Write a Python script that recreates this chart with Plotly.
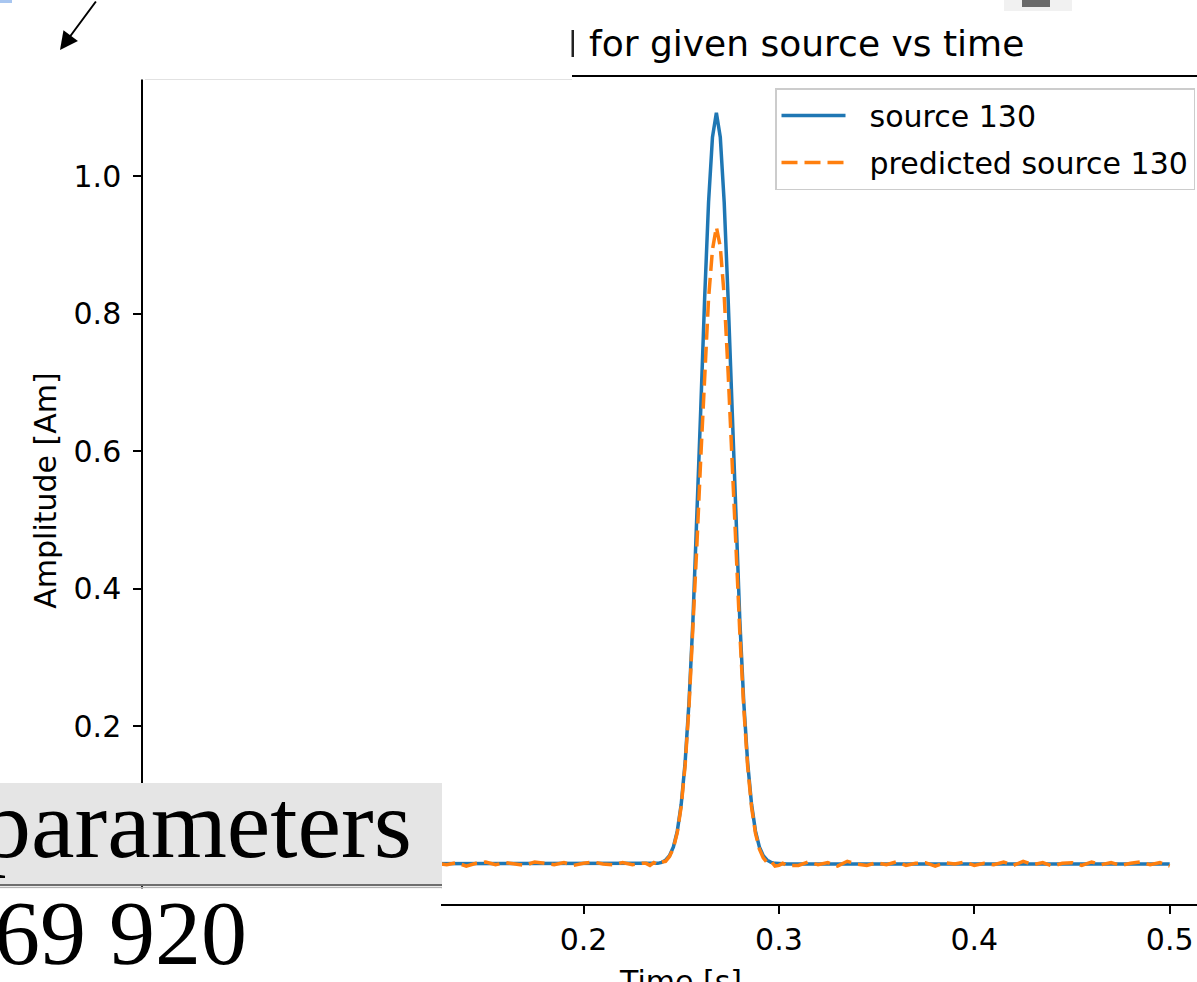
import plotly.graph_objects as go

# ---------------- data ----------------
time_s = [
    0.000, 0.005, 0.010, 0.015, 0.020, 0.025, 0.030, 0.035, 0.040, 0.045,
    0.050, 0.055, 0.060, 0.065, 0.070, 0.075, 0.080, 0.085, 0.090, 0.095,
    0.100, 0.105, 0.110, 0.115, 0.120, 0.125, 0.130, 0.135, 0.140, 0.145,
    0.150, 0.155, 0.160, 0.165, 0.170, 0.175, 0.180, 0.185, 0.190, 0.195,
    0.200, 0.205, 0.210, 0.215, 0.220, 0.225, 0.230,
    0.232, 0.234, 0.236, 0.238, 0.240, 0.242, 0.244, 0.246, 0.248, 0.250,
    0.252, 0.254, 0.256, 0.258, 0.260, 0.262, 0.264, 0.266, 0.268, 0.270,
    0.272, 0.274, 0.276, 0.278, 0.280, 0.282, 0.284, 0.286, 0.288, 0.290,
    0.292, 0.294, 0.296, 0.298, 0.300, 0.302, 0.304,
    0.310, 0.315, 0.320, 0.325, 0.330, 0.335, 0.340, 0.345, 0.350, 0.355,
    0.360, 0.365, 0.370, 0.375, 0.380, 0.385, 0.390, 0.395, 0.400, 0.405,
    0.410, 0.415, 0.420, 0.425, 0.430, 0.435, 0.440, 0.445, 0.450, 0.455,
    0.460, 0.465, 0.470, 0.475, 0.480, 0.485, 0.490, 0.495, 0.500,
]

source_amp = [
    0, 0, 0, 0, 0, 0, 0, 0, 0, 0,
    0, 0, 0, 0, 0, 0, 0, 0, 0, 0,
    0, 0, 0, 0, 0, 0, 0, 0, 0, 0,
    0, 0, 0, 0, 0, 0, 0, 0, 0, 0,
    0, 0, 0, 0, 0, 0, 0,
    0.0000, 0.0000, 0.0003, 0.0010, 0.0024, 0.0055, 0.0121, 0.0248, 0.0479, 0.0867,
    0.1475, 0.2358, 0.3539, 0.4990, 0.6611, 0.8227, 0.9619, 1.0565, 1.0920, 1.0565,
    0.9619, 0.8227, 0.6611, 0.4990, 0.3539, 0.2358, 0.1475, 0.0867, 0.0479, 0.0248,
    0.0121, 0.0055, 0.0024, 0.0010, 0.0003, 0.0000, 0.0000,
    0, 0, 0, 0, 0, 0, 0, 0, 0, 0,
    0, 0, 0, 0, 0, 0, 0, 0, 0, 0,
    0, 0, 0, 0, 0, 0, 0, 0, 0, 0,
    0, 0, 0, 0, 0, 0, 0, 0, 0,
]

predicted_amp = [
    0.002, -0.001, 0.003, 0.000, -0.002, 0.002, 0.001, -0.003, 0.002, 0.000,
    0.003, -0.001, 0.001, -0.002, 0.003, 0.000, 0.002, -0.002, 0.001, 0.003,
    -0.001, 0.000, 0.002, -0.002, 0.003, 0.001, -0.001, 0.002, -0.003, 0.001,
    0.003, -0.001, 0.002, 0.000, -0.002, 0.003, 0.001, -0.001, 0.002, -0.002,
    0.001, 0.003, 0.000, -0.001, 0.002, -0.001, 0.001,
    0.001, -0.002, 0.002, -0.001, 0.003, 0.004, 0.011, 0.023, 0.046, 0.084,
    0.143, 0.229, 0.340, 0.462, 0.590, 0.712, 0.822, 0.893, 0.926, 0.897,
    0.826, 0.715, 0.585, 0.455, 0.336, 0.228, 0.142, 0.083, 0.045, 0.022,
    0.009, 0.002, 0.004, -0.003, -0.002, 0.001, -0.002,
    -0.002, 0.003, -0.001, 0.002, -0.003, 0.004, 0.000, -0.002, 0.002, -0.001,
    0.003, -0.002, 0.001, 0.002, -0.003, 0.002, 0.000, 0.003, -0.002, 0.001,
    -0.001, 0.003, -0.002, 0.004, -0.001, 0.002, -0.003, 0.001, 0.002, -0.002,
    0.003, -0.001, 0.002, -0.002, 0.001, 0.003, -0.001, 0.002, -0.003,
]

assert len(time_s) == len(source_amp) == len(predicted_amp)

series_names = ["source 130", "predicted source 130"]

x_tick_vals = [0.0, 0.1, 0.2, 0.3, 0.4, 0.5]
x_tick_text = ["0.0", "0.1", "0.2", "0.3", "0.4", "0.5"]
y_tick_vals = [0.0, 0.2, 0.4, 0.6, 0.8, 1.0]
y_tick_text = ["0.0", "0.2", "0.4", "0.6", "0.8", "1.0"]

# ---------------- layout helpers (pixel -> paper) ----------------
W, H = 1197, 982
L, R, T, B = 143, 0, 77, 78
PW, PH = W - L - R, H - T - B


def PX(x):
    return (x - L) / PW


def PY(y):
    return (H - B - y) / PH


SANS = "DejaVu Sans"
SERIF = "Liberation Serif"
BLUE = "#1f77b4"
ORANGE = "#ff7f0e"
PAD = "\u00a0\u00a0"

fig = go.Figure()
fig.add_trace(go.Scatter(
    x=time_s, y=source_amp, mode="lines", name=PAD + series_names[0],
    legendgroup="a",
    line=dict(color=BLUE, width=3.5),
))
fig.add_trace(go.Scatter(
    x=time_s, y=predicted_amp, mode="lines", name=PAD + series_names[1],
    legendgroup="b",
    line=dict(color=ORANGE, width=3.5, dash="16px,7px"),
))

shapes = [
    # white panel hiding the top-left of the figure
    dict(type="rect", xref="paper", yref="paper", x0=PX(-5), x1=PX(572),
         y0=PY(79.5), y1=PY(-5), fillcolor="white", line=dict(width=0), layer="above"),
    dict(type="line", xref="paper", yref="paper", x0=PX(145), x1=PX(572),
         y0=PY(79.5), y1=PY(79.5), line=dict(color="#e2e2e2", width=1), layer="above"),
    # clipped last letter of the hidden part of the title
    dict(type="rect", xref="paper", yref="paper", x0=PX(571.5), x1=PX(574),
         y0=PY(57), y1=PY(30), fillcolor="#222222", line=dict(width=0), layer="above"),
    # grey heading box bottom-left
    dict(type="rect", xref="paper", yref="paper", x0=PX(-5), x1=PX(442),
         y0=PY(884), y1=PY(783), fillcolor="#e5e5e5", line=dict(width=0), layer="above"),
    dict(type="line", xref="paper", yref="paper", x0=PX(-5), x1=PX(442),
         y0=PY(885), y1=PY(885), line=dict(color="#6e6e6e", width=2), layer="above"),
    dict(type="line", xref="paper", yref="paper", x0=PX(-5), x1=PX(442),
         y0=PY(887.5), y1=PY(887.5), line=dict(color="#b4b4b4", width=1.5), layer="above"),
    # white page below the heading
    dict(type="rect", xref="paper", yref="paper", x0=PX(-5), x1=PX(441),
         y0=PY(990), y1=PY(888.5), fillcolor="white", line=dict(width=0), layer="above"),
    # small blue mark top-left corner
    dict(type="rect", xref="paper", yref="paper", x0=PX(-2), x1=PX(12),
         y0=PY(3), y1=PY(-2), fillcolor="#a8c6f0", line=dict(width=0), layer="above"),
    # grey blob top-right
    dict(type="rect", xref="paper", yref="paper", x0=PX(1004), x1=PX(1072),
         y0=PY(11), y1=PY(-2), fillcolor="#f1f1f1", line=dict(width=0), layer="above"),
    dict(type="rect", xref="paper", yref="paper", x0=PX(1022), x1=PX(1050),
         y0=PY(7), y1=PY(-2), fillcolor="#6a6a6a", line=dict(width=0), layer="above"),
]

annotations = [
    dict(text="for given source vs time", xref="paper", yref="paper",
         x=PX(587), y=PY(44), xanchor="left", yanchor="middle", showarrow=False,
         font=dict(family=SANS, size=36, color="black")),
    dict(text="parameters", xref="paper", yref="paper",
         x=PX(414), y=PY(824), xanchor="right", yanchor="middle", showarrow=False,
         font=dict(family=SERIF, size=98, color="black")),
    dict(text="69 920", xref="paper", yref="paper",
         x=PX(249), y=PY(933), xanchor="right", yanchor="middle", showarrow=False,
         font=dict(family=SERIF, size=92, color="black")),
    dict(text="Time [s]", xref="paper", yref="paper",
         x=PX(680), y=PY(981), xanchor="center", yanchor="middle", showarrow=False,
         font=dict(family=SANS, size=30, color="black")),
    # arrow top-left
    dict(text="", xref="paper", yref="paper", x=PX(60), y=PY(50),
         ax=37, ay=-54, axref="pixel", ayref="pixel", showarrow=True,
         arrowhead=2, arrowsize=1.8, arrowwidth=2, arrowcolor="black"),
]

fig.update_layout(
    width=W, height=H,
    margin=dict(l=L, r=R, t=T, b=B, pad=0, autoexpand=False),
    paper_bgcolor="white", plot_bgcolor="white",
    font=dict(family=SANS, size=30, color="black"),
    showlegend=True,
    legend=dict(
        x=PX(775), y=PY(88), xanchor="left", yanchor="top",
        bgcolor="rgba(255,255,255,0.8)", bordercolor="#cccccc", borderwidth=1.5,
        font=dict(family=SANS, size=30, color="black"),
        itemwidth=64, tracegroupgap=5,
    ),
    xaxis=dict(
        range=[-0.02544, 0.51397], tickvals=x_tick_vals, ticktext=x_tick_text,
        showgrid=False, zeroline=False, showline=True, linecolor="black",
        linewidth=1.5, mirror=True, ticks="outside", ticklen=8, tickwidth=1.5,
        tickcolor="black", tickfont=dict(family=SANS, size=30, color="black"),
        automargin=False,
    ),
    yaxis=dict(
        range=[-0.0581, 1.1439], tickvals=y_tick_vals, ticktext=y_tick_text,
        showgrid=False, zeroline=False, showline=True, linecolor="black",
        linewidth=1.5, mirror=False, ticks="outside", ticklen=8, tickwidth=1.5,
        tickcolor="black", tickfont=dict(family=SANS, size=30, color="black"),
        ticklabelstandoff=6,
        title=dict(text="Amplitude [Am]", font=dict(family=SANS, size=30, color="black"),
                   standoff=8),
        automargin=False,
    ),
    shapes=shapes,
    annotations=annotations,
)

fig.write_html("out.html", config={"displayModeBar": False},
               post_script="document.body.style.margin='0px';")
